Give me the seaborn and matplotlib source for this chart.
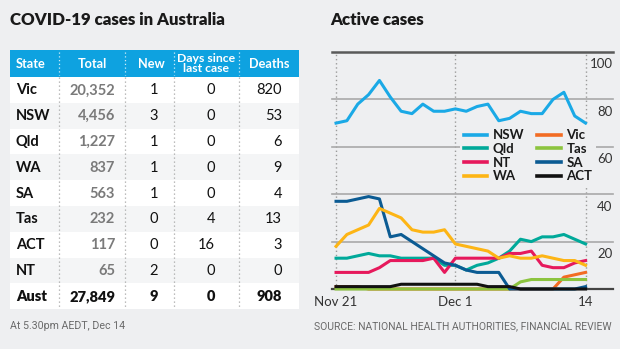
import matplotlib
matplotlib.use("Agg")
import matplotlib.pyplot as plt
import matplotlib.transforms as mtransforms
from matplotlib.patches import Rectangle
import pandas as pd
import seaborn as sns

# ---- table data ----
states = ["Vic", "NSW", "Qld", "WA", "SA", "Tas", "ACT", "NT", "Aust"]
total = [20352, 4456, 1227, 837, 563, 232, 117, 65, 27849]
new = [1, 3, 1, 1, 1, 0, 0, 2, 9]
days_since = [0, 0, 0, 0, 0, 4, 16, 0, 0]
deaths = [820, 53, 6, 9, 4, 13, 3, 0, 908]

# ---- active cases, one value per day ----
day = list(range(24))
tick_pos = [0, 11, 23]
tick_labels = ["Nov 21", "Dec 1", "14"]
nsw = [70, 71, 78, 82, 88, 81, 75, 74, 78, 75, 75, 76, 75, 77, 78, 71, 72, 75, 74, 74, 80, 83, 73, 70]
vic = [1, 1, 1, 0, 0, 0, 0, 0, 0, 0, 0, 0, 0, 0, 0, 0, 0, 0, 0, 0, 0, 5, 6, 7]
qld = [13, 13, 14, 15, 14, 14, 13, 13, 13, 13, 10, 10, 8, 10, 11, 13, 16, 21, 20, 22, 22, 23, 21, 19]
tas = [0, 0, 0, 0, 0, 0, 0, 0, 0, 0, 0, 0, 0, 0, 0, 0, 0, 3, 4, 4, 4, 4, 4, 4]
nt = [7, 7, 7, 7, 9, 12, 12, 12, 12, 13, 7, 13, 13, 13, 13, 13, 15, 15, 16, 10, 9, 9, 11, 12]
sa = [37, 37, 38, 39, 38, 22, 23, 20, 17, 14, 11, 10, 8, 7, 7, 7, 0, 0, 0, 0, 0, 0, 0, 1]
wa = [18, 23, 25, 27, 34, 32, 30, 25, 24, 24, 25, 19, 18, 17, 16, 13, 14, 13, 13, 14, 13, 12, 12, 10]
act = [1, 1, 1, 1, 1, 1, 2, 2, 2, 2, 2, 2, 2, 2, 1, 1, 1, 0, 0, 0, 0, 0, 0, 0]
y_ticks = [20, 40, 60, 80, 100]

series = {"NSW": nsw, "Vic": vic, "Qld": qld, "Tas": tas,
          "NT": nt, "SA": sa, "WA": wa, "ACT": act}
palette = {"NSW": "#1AA9E6", "Vic": "#F26C23", "Qld": "#00A99A", "Tas": "#8CC43F",
           "NT": "#E6195C", "SA": "#0B5B93", "WA": "#FDB515", "ACT": "#111111"}

df = pd.DataFrame([{"day": d, "state": s, "cases": v}
                   for s, vals in series.items() for d, v in zip(day, vals)])

BG = "#EEEFF1"
HEAD = "#0EA2E0"
FONT = ["Lato", "DejaVu Sans"]
NARROW = ["Liberation Sans Narrow", "Roboto", "DejaVu Sans"]
plt.rcParams["font.family"] = FONT

W, H = 620, 349
fig = plt.figure(figsize=(W / 100, H / 100), dpi=100, facecolor=BG)

# overlay working in pixel units for titles, table and footer
ov = fig.add_axes([0, 0, 1, 1], zorder=0)
ov.set_xlim(0, W)
ov.set_ylim(H, 0)
ov.axis("off")

ov.text(10, 20, "COVID-19 cases in Australia", fontsize=12.2, fontweight="heavy",
        color="#1a1a1a", va="center", ha="left")
ov.text(330, 20, "Active cases", fontsize=12.2, fontweight="heavy",
        color="#1a1a1a", va="center", ha="left")

# ---- table ----
tx0, tx1 = 10, 299
hy0, hy1 = 50, 77
row_h = 25.8
ov.add_patch(Rectangle((tx0, hy0), tx1 - tx0, hy1 - hy0, color=HEAD, lw=0))
for k in range(len(states)):
    y0 = hy1 + k * row_h
    ov.add_patch(Rectangle((tx0, y0), tx1 - tx0, row_h,
                           color="white" if k % 2 == 0 else "#F4F5F6", lw=0))
bottom = hy1 + len(states) * row_h
for xs in [59.3, 125, 174.3, 239.3]:
    ov.plot([xs, xs], [hy0 + 2, hy1 - 2], color="white", lw=0.9,
            ls=(0, (1, 2)), alpha=0.8)
    ov.plot([xs, xs], [hy1, bottom], color="#A8A8A8", lw=0.9, ls=(0, (1, 2.2)))

hc = (hy0 + hy1) / 2
hkw = dict(color="white", fontweight="bold", va="center", fontsize=9.2)
ov.text(16, hc, "State", ha="left", **hkw)
ov.text(92, hc, "Total", ha="center", **hkw)
ov.text(151, hc, "New", ha="center", **hkw)
ov.text(206, hc, "Days since\nlast case", ha="center", linespacing=0.85,
        **{**hkw, "fontsize": 8.8})
ov.text(269, hc, "Deaths", ha="center", **hkw)

for k, s in enumerate(states):
    yc = hy1 + (k + 0.5) * row_h + 0.5
    last = s == "Aust"
    wt = "heavy" if last else "normal"
    ov.text(16, yc, s, ha="left", va="center", fontsize=10.5,
            fontweight="heavy" if last else "bold", color="#111")
    ov.text(115, yc, f"{total[k]:,}", ha="right", va="center", fontsize=10.5,
            fontweight="heavy" if last else "bold",
            color="#111" if last else "#7A7A7A")
    ov.text(158, yc, str(new[k]), ha="right", va="center", fontsize=10.5,
            fontweight=wt, color="#111")
    ov.text(215, yc, str(days_since[k]), ha="right", va="center", fontsize=10.5,
            fontweight=wt, color="#111")
    ov.text(282, yc, str(deaths[k]), ha="right", va="center", fontsize=10.5,
            fontweight=wt, color="#111")

# ---- footer ----
ov.text(10, 326, "At 5.30pm AEDT, Dec 14", fontsize=7.7, color="#6a6a6a",
        va="center", ha="left", family=NARROW)
ov.text(612, 326, "SOURCE: NATIONAL HEALTH AUTHORITIES, FINANCIAL REVIEW",
        fontsize=7.5, color="#6a6a6a", va="center", ha="right", family=NARROW)

# ---- line chart ----
ax_l, ax_r, ax_t, ax_b = 331.7, 612.7, 52, 289
ax = fig.add_axes([ax_l / W, (H - ax_b) / H, (ax_r - ax_l) / W, (ax_b - ax_t) / H],
                  zorder=2)
ax.patch.set_alpha(0)

for v in y_ticks[:-1]:
    ax.axhline(v, color="#A9A9A9", lw=1.2, zorder=0.5)
ax.axhline(100, color="#5A5A5A", lw=1.8, zorder=0.5, clip_on=False)
ax.axhline(0, color="#444444", lw=1.6, zorder=1.5, clip_on=False)
for t in tick_pos:
    ax.axvline(t, color="#9A9A9A", lw=1.0, ls=(0, (1, 2)), zorder=0.4)

sns.lineplot(data=df, x="day", y="cases", hue="state",
             hue_order=list(series.keys()), palette=palette,
             linewidth=2.2, ax=ax)
for ln in ax.lines:
    ln.set_clip_on(False)

ax.set_xlim(-0.4, 25.5)
ax.set_ylim(0, 100)
ax.set_xticks([])
ax.set_yticks([])
ax.set_xlabel("")
ax.set_ylabel("")
for sp in ax.spines.values():
    sp.set_visible(False)

ytrans = mtransforms.blended_transform_factory(ax.transAxes, ax.transData)
for v in y_ticks:
    ax.annotate(str(v), xy=(1.0, v), xycoords=ytrans, xytext=(0, -9),
                textcoords="offset points", ha="right", va="center",
                fontsize=9.5, color="#333333")
for t, lab in zip(tick_pos, tick_labels):
    ax.annotate(lab, xy=(t, 0), xycoords="data", xytext=(0, -9),
                textcoords="offset points", ha="center", va="center",
                fontsize=9.5, color="#333333", annotation_clip=False)

handles, labels = ax.get_legend_handles_labels()
lookup = dict(zip(labels, handles))
order = ["NSW", "Qld", "NT", "WA", "Vic", "Tas", "SA", "ACT"]
leg = ax.legend([lookup[o] for o in order], order, ncol=2, loc="upper left",
                bbox_to_anchor=(0.455, 0.69), frameon=True, fancybox=False,
                facecolor=BG, edgecolor="none", framealpha=1.0,
                prop={"weight": "bold", "size": 9.5, "family": FONT},
                handlelength=1.8, handletextpad=0.4, columnspacing=1.0,
                labelspacing=0.12, borderpad=0.3, borderaxespad=0)
for txt in leg.get_texts():
    txt.set_color("#1a1a1a")
for h in leg.legend_handles:
    h.set_linewidth(2.6)

fig.savefig("out.png", dpi=100, facecolor=BG)
